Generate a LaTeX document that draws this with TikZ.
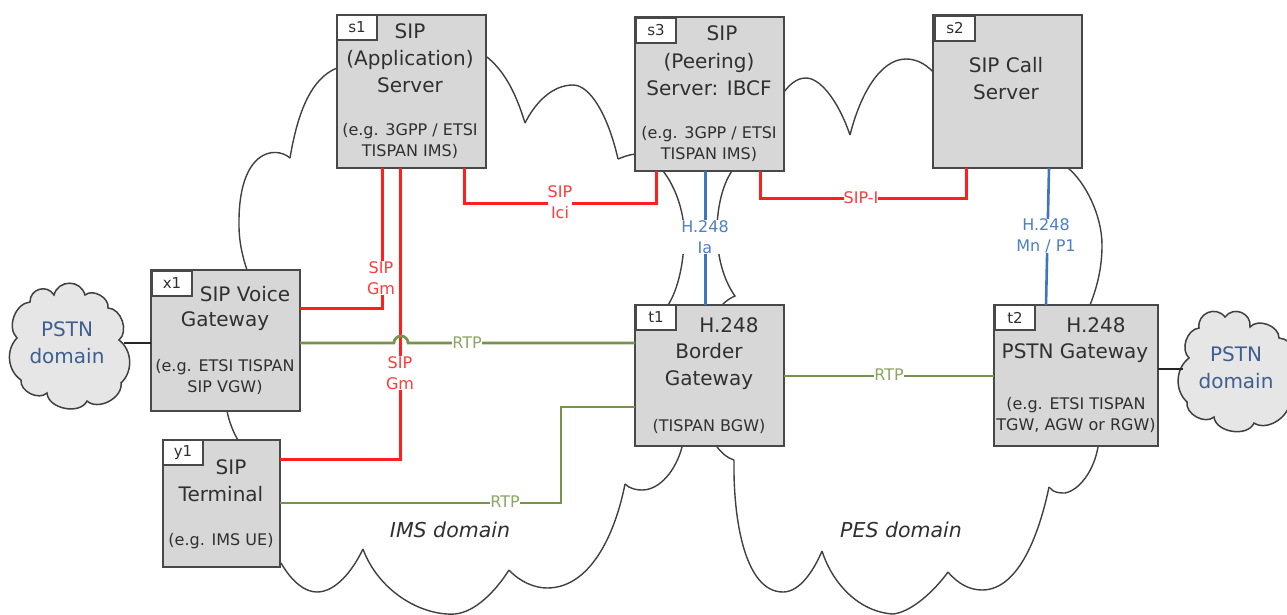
\documentclass[tikz,border=0pt]{standalone}
\usepackage{fontspec}
\setmainfont{DejaVu Sans}
\definecolor{boxfill}{HTML}{D7D7D7}
\definecolor{boxline}{HTML}{484848}
\definecolor{cloudfill}{HTML}{E6E6E6}
\definecolor{sipred}{HTML}{FF1F1F}
\definecolor{sipredtxt}{HTML}{FF3B3B}
\definecolor{rtpgreen}{HTML}{76934A}
\definecolor{rtptxt}{HTML}{8CA663}
\definecolor{hblue}{HTML}{3F74BE}
\definecolor{hbluetxt}{HTML}{4F7FC4}
\definecolor{pstnblue}{HTML}{3F5F8F}
\definecolor{txtgrey}{HTML}{303030}
\tikzset{
  every node/.style={inner sep=0pt,outer sep=0pt},
  netbox/.style={draw=boxline,fill=boxfill,line width=2.6pt,anchor=north west},
  tagbox/.style={draw=boxline,fill=white,line width=2pt,anchor=north west,minimum width=40pt,minimum height=25pt,font=\fontsize{15}{15}\selectfont,text=txtgrey},
  title/.style={font=\fontsize{20}{27}\selectfont,align=center,text=txtgrey},
  note/.style={font=\fontsize{16}{21}\selectfont,align=center,text=txtgrey},
  lab/.style={font=\fontsize{16}{21.5}\selectfont,align=center,fill=white},
  sipline/.style={draw=sipred,line width=3pt,line join=miter},
  rtpline/.style={draw=rtpgreen,line width=2.7pt},
  hline/.style={draw=hblue,line width=2.6pt},
  cloudline/.style={draw=black!75,line width=1.4pt},
  pstnlink/.style={draw=black!85,line width=2.6pt},
  pstncloud/.style={draw=black!75,fill=cloudfill,line width=1.5pt},
  domainlabel/.style={font=\fontsize{20.5}{20.5}\itshape\selectfont,text=txtgrey},
  pstntext/.style={font=\fontsize{20}{27}\selectfont,align=center,text=pstnblue},
  top bump/.style={bend left=75,looseness=1.35}
}
\begin{document}
\begin{tikzpicture}[x=1pt,y=-1pt]
\clip (0,0) rectangle (1287,614);
% large domain clouds
\draw[cloudline] (337,68) .. controls (312,78) and (298,110) .. (290,158);
\draw[cloudline] (290,158) .. controls (275,145) and (238,150) .. (239,225) .. controls (239,243) and (243,258) .. (247,270);
\draw[cloudline] (227,411) .. controls (229,421) and (233,432) .. (238,440);
\draw[cloudline] (281,563) .. controls (292,582) and (305,592) .. (317,592) .. controls (335,592) and (352,572) .. (363,549);
\draw[cloudline] (363,549) .. controls (378,590) and (420,616) .. (455,614) .. controls (475,612) and (495,592) .. (509,570);
\draw[cloudline] (509,570) .. controls (520,582) and (535,588) .. (547,588) .. controls (590,588) and (615,535) .. (625,484);
\draw[cloudline] (625,484) .. controls (630,489) and (637,490) .. (642,490) .. controls (660,490) and (676,470) .. (682,447);
\draw[cloudline] (717,447) .. controls (722,453) and (727,458) .. (734,460);
\draw[cloudline] (734,460) .. controls (733,520) and (745,592) .. (783,592) .. controls (800,592) and (814,570) .. (822,551);
\draw[cloudline] (822,551) .. controls (833,585) and (860,612) .. (893,614) .. controls (912,612) and (935,590) .. (948,572);
\draw[cloudline] (948,572) .. controls (958,584) and (970,590) .. (982,590) .. controls (1020,590) and (1040,530) .. (1049,487);
\draw[cloudline] (1049,487) .. controls (1053,493) and (1060,493) .. (1065,493) .. controls (1080,490) and (1094,470) .. (1098,447);
\draw[cloudline] (1090,305) .. controls (1100,280) and (1102,260) .. (1102,245) .. controls (1102,215) and (1085,182) .. (1068,168);
\draw[cloudline] (933,72) .. controls (925,63) and (915,59) .. (906,59) .. controls (880,59) and (860,95) .. (850,135);
\draw[cloudline] (850,135) .. controls (838,100) and (820,78) .. (806,78) .. controls (797,78) and (790,84) .. (784,92);
\draw[cloudline] (663,171) .. controls (672,182) and (683,205) .. (684,230) .. controls (685,260) and (678,290) .. (668,305);
\draw[cloudline] (732,171) .. controls (722,185) and (717,210) .. (717,230) .. controls (717,260) and (725,282) .. (735,296) .. controls (730,298) and (726,301) .. (722,305);
\draw[cloudline] (635,154) .. controls (628,155) and (623,157) .. (618,159);
\draw[cloudline] (618,159) .. controls (608,115) and (590,85) .. (573,85) .. controls (552,85) and (535,103) .. (525,123);
\draw[cloudline] (525,123) .. controls (515,90) and (503,70) .. (487,57);
% PSTN clouds
\path[pstncloud] (30,302) to[top bump] (54,295) to[top bump] (85,295) to[bend left=70] (108,308)
  to[bend left=70] (119,340) to[bend left=50] (121,383) to[bend left=70] (87,401)
  to[bend left=75] (47,393) to[bend left=70] (21,380) to[bend left=50] (17,338) to[bend left=65] (30,302) -- cycle;
\path[pstncloud] (1199,328) to[top bump] (1225,317) to[top bump] (1250,327) to[bend left=70] (1279,338)
  to[bend left=60] (1295,370) to[bend left=60] (1289,398) to[bend left=70] (1254,423)
  to[bend left=75] (1214,417) to[bend left=70] (1187,402) to[bend left=50] (1189,358)
  to[bend left=65] (1199,328) -- cycle;
% boxes
\node[netbox,minimum width=149pt,minimum height=153pt] (s1) at (337,15) {};
\node[netbox,minimum width=149pt,minimum height=154pt] (s3) at (635,17) {};
\node[netbox,minimum width=149pt,minimum height=153pt] (s2) at (933,15) {};
\node[netbox,minimum width=149pt,minimum height=141pt] (x1) at (151,270) {};
\node[netbox,minimum width=117pt,minimum height=127pt] (y1) at (163,440) {};
\node[netbox,minimum width=149pt,minimum height=141pt] (t1) at (635,305) {};
\node[netbox,minimum width=164pt,minimum height=141pt] (t2) at (994,305) {};
\node[tagbox] (s1tag) at (337,15) {s1};
\node[tagbox] (s3tag) at (636,18) {s3};
\node[tagbox] (s2tag) at (935,16) {s2};
\node[tagbox] (x1tag) at (152,271) {x1};
\node[tagbox] (y1tag) at (163,440) {y1};
\node[tagbox] (t1tag) at (636,305) {t1};
\node[tagbox] (t2tag) at (995,305) {t2};
% routing coordinates
\coordinate (gm1) at (382,308);
\coordinate (gm2) at (400,459);
\coordinate (ici) at (464,203);
\coordinate (ici2) at (656,203);
\coordinate (sipi) at (760,198);
\coordinate (sipi2) at (966,198);
\coordinate (rtp1) at (561,503);
\coordinate (rtp2) at (561,407);
\coordinate (y343) at (394,343);
\coordinate (y343b) at (408,343);
\coordinate (ia) at (705.5,0);
\coordinate (mnA) at (1049,0);
\coordinate (mnB) at (1046,0);
\coordinate (y376) at (0,376);
\coordinate (pl) at (0,343);
\coordinate (pr) at (0,369);
\coordinate (cloudL) at (124,0);
\coordinate (cloudR) at (1183,0);
% SIP connectors
\draw[sipline] (s1.south -| gm1) -- (gm1) -- (x1.east |- gm1);
\draw[sipline] (s1.south -| gm2) -- (gm2) -- (y1.east |- gm2);
\draw[sipline] (s1.south -| ici) -- (ici) -- (ici2) -- (s3.south -| ici2);
\draw[sipline] (s3.south -| sipi) -- (sipi) -- (sipi2) -- (s2.south -| sipi2);
% H.248 connectors
\draw[hline] (s3.south -| ia) -- (t1.north -| ia);
\draw[hline] (s2.south -| mnA) -- (t2.north -| mnB);
% RTP connectors
\draw[rtpline] (x1.east |- y343) -- (y343) arc[start angle=180,end angle=0,radius=7pt] -- (t1.west |- y343b);
\draw[rtpline] (t1.east |- y376) -- (t2.west |- y376);
\draw[rtpline] (y1.east |- rtp1) -- (rtp1) -- (rtp2) -- (t1.west |- rtp2);
% PSTN links
\draw[pstnlink] (cloudL |- pl) -- (x1.west |- pl);
\draw[pstnlink] (t2.east |- pr) -- (cloudR |- pr);
% connector labels
\node[lab,text=sipredtxt] (lgm1) at (381,278) {SIP\\Gm};
\node[lab,text=sipredtxt] (lgm2) at (400,373) {SIP\\Gm};
\node[lab,text=sipredtxt] (lici) at (560,202) {SIP\\Ici};
\node[lab,text=sipredtxt] (lsipi) at (861,198) {SIP-I};
\node[lab,text=hbluetxt,minimum width=56pt] (lia) at (705,237) {H.248\\Ia};
\node[lab,text=hbluetxt] (lmn) at (1046,236) {H.248\\Mn / P1};
\node[lab,text=rtptxt] (lr1) at (467,343) {RTP};
\node[lab,text=rtptxt] (lr2) at (889,375) {RTP};
\node[lab,text=rtptxt] (lr3) at (505,502) {RTP};
% box texts
\node[title] (ts1) at (410,58) {SIP\\(Application)\\Server};
\node[note] (ns1) at (410,141) {(e.g. 3GPP / ETSI\\TISPAN IMS)};
\node[title] (ts3a) at (722,33) {SIP};
\node[title] (ts3) at (709,74.5) {(Peering)\\Server: IBCF};
\node[note] (ns3) at (709,144) {(e.g. 3GPP / ETSI\\TISPAN IMS)};
\node[title] (ts2) at (1006,79) {SIP Call\\Server};
\node[title] (tx1a) at (245,294) {SIP Voice};
\node[title] (tx1) at (225,321) {Gateway};
\node[note] (nx1) at (225,377) {(e.g. ETSI TISPAN\\SIP VGW)};
\node[title] (ty1a) at (231,467) {SIP};
\node[title] (ty1) at (221,494) {Terminal};
\node[note] (ny1) at (221,541) {(e.g. IMS UE)};
\node[title] (tt1a) at (729,325) {H.248};
\node[title] (tt1) at (709,366.5) {Border\\Gateway};
\node[note] (nt1) at (709,426) {(TISPAN BGW)};
\node[title] (tt2a) at (1096,325) {H.248};
\node[title] (tt2) at (1075,353) {PSTN Gateway};
\node[note] (nt2) at (1076,414.5) {(e.g. ETSI TISPAN\\TGW, AGW or RGW)};
\node[pstntext] (pl1) at (67,342.5) {PSTN\\domain};
\node[pstntext] (pr1) at (1236,368) {PSTN\\domain};
\node[domainlabel] (ims) at (450,530) {IMS domain};
\node[domainlabel] (pes) at (901,530) {PES domain};
\end{tikzpicture}
\end{document}
